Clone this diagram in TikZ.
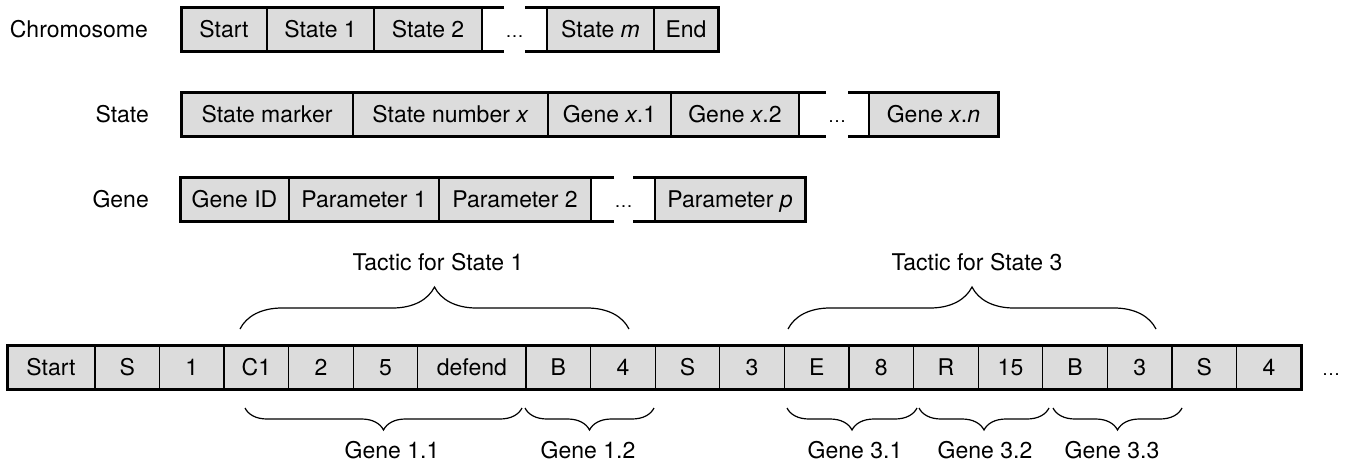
\documentclass[tikz,border=0pt]{standalone}
\usepackage{fontspec}
\setmainfont{TeX Gyre Heros}
\usetikzlibrary{decorations.pathreplacing}
\definecolor{cellgray}{RGB}{220,220,220}
\begin{document}
\begin{tikzpicture}[x=1pt,y=-1pt,
  font=\fontsize{23}{27}\selectfont,
  cell/.style={draw, fill=cellgray, line width=1.3pt, minimum height=44pt,
    inner sep=0pt, outer sep=0pt, anchor=west, text height=21pt, text depth=5pt},
  dots/.style={inner sep=0pt, text height=21pt, text depth=5pt, font=\fontsize{18}{20}\selectfont},
  lbl/.style={anchor=east, inner sep=0pt, text height=21pt, text depth=5pt},
  txt/.style={inner sep=0pt, text height=21pt, text depth=5pt},
  outer/.style={line width=3pt, line join=miter},
  brc/.style={decorate, decoration={brace, amplitude=#1}, line width=1.2pt},
  mbrc/.style={decorate, decoration={brace, mirror, amplitude=#1}, line width=1.2pt}
]
\useasboundingbox (0,0) rectangle (1347,466);

% ---------- Row 1: Chromosome ----------
\node[lbl] (l1) at (148,29) {Chromosome};
\node[cell, minimum width=86pt] (r1a) at (181,29) {Start};
\node[cell, minimum width=107pt] (r1b) at (r1a.east) {State 1};
\node[cell, minimum width=108pt] (r1c) at (r1b.east) {State 2};
\node[dots] (r1g) at (514.5,29) {\ldots};
\node[cell, minimum width=107pt] (r1d) at (547,29) {State \textit{m}};
\node[cell, minimum width=64pt] (r1e) at (r1d.east) {End};
\coordinate (r1p) at (504,7);  \coordinate (r1q) at (504,51);
\coordinate (r1s) at (525,7);  \coordinate (r1t) at (525,51);
\draw[outer] (r1p) -- (r1a.north west) -- (r1a.south west) -- (r1q);
\draw[outer] (r1s) -- (r1e.north east) -- (r1e.south east) -- (r1t);

% ---------- Row 2: State ----------
\node[lbl] (l2) at (149,114) {State};
\node[cell, minimum width=172pt] (r2a) at (181,114) {State marker};
\node[cell, minimum width=195pt] (r2b) at (r2a.east) {State number \textit{x}};
\node[cell, minimum width=123pt] (r2c) at (r2b.east) {Gene \textit{x}.1};
\node[cell, minimum width=128pt] (r2d) at (r2c.east) {Gene \textit{x}.2};
\node[dots] (r2g) at (837,114) {\ldots};
\node[cell, minimum width=129pt] (r2e) at (869,114) {Gene \textit{x}.\textit{n}};
\coordinate (r2p) at (826,92);  \coordinate (r2q) at (826,136);
\coordinate (r2s) at (848,92);  \coordinate (r2t) at (848,136);
\draw[outer] (r2p) -- (r2a.north west) -- (r2a.south west) -- (r2q);
\draw[outer] (r2s) -- (r2e.north east) -- (r2e.south east) -- (r2t);

% ---------- Row 3: Gene ----------
\node[lbl] (l3) at (149,199) {Gene};
\node[cell, minimum width=109pt] (r3a) at (180,199) {Gene ID};
\node[cell, minimum width=150pt] (r3b) at (r3a.east) {Parameter 1};
\node[cell, minimum width=152pt] (r3c) at (r3b.east) {Parameter 2};
\node[dots] (r3g) at (623.5,199) {\ldots};
\node[cell, minimum width=150pt] (r3d) at (655,199) {Parameter \textit{p}};
\coordinate (r3p) at (614,177);  \coordinate (r3q) at (614,221);
\coordinate (r3s) at (633,177);  \coordinate (r3t) at (633,221);
\draw[outer] (r3p) -- (r3a.north west) -- (r3a.south west) -- (r3q);
\draw[outer] (r3s) -- (r3d.north east) -- (r3d.south east) -- (r3t);

% ---------- Example chromosome ----------
\node[cell, minimum width=88pt] (b1) at (7,367) {Start};
\node[cell, minimum width=64.55pt] (b2) at (b1.east) {S};
\node[cell, minimum width=64.55pt] (b3) at (b2.east) {1};
\node[cell, minimum width=64.55pt] (b4) at (b3.east) {C1};
\node[cell, minimum width=64.55pt] (b5) at (b4.east) {2};
\node[cell, minimum width=64.55pt] (b6) at (b5.east) {5};
\node[cell, minimum width=108.25pt] (b7) at (b6.east) {defend};
\node[cell, minimum width=64.6pt] (b8) at (b7.east) {B};
\node[cell, minimum width=64.6pt] (b9) at (b8.east) {4};
\node[cell, minimum width=64.6pt] (b10) at (b9.east) {S};
\node[cell, minimum width=64.6pt] (b11) at (b10.east) {3};
\node[cell, minimum width=64.6pt] (b12) at (b11.east) {E};
\node[cell, minimum width=64.6pt] (b13) at (b12.east) {8};
\node[cell, minimum width=64.6pt] (b14) at (b13.east) {R};
\node[cell, minimum width=64.6pt] (b15) at (b14.east) {15};
\node[cell, minimum width=64.6pt] (b16) at (b15.east) {B};
\node[cell, minimum width=64.6pt] (b17) at (b16.east) {3};
\node[cell, minimum width=64.6pt] (b18) at (b17.east) {S};
\node[cell, minimum width=64.6pt] (b19) at (b18.east) {4};
\draw[outer] (b1.north west) rectangle (b19.south east);
\node[dots] (bend) at (1331,367) {\ldots};

% ---------- Tactic braces ----------
\coordinate (t1a) at (240,329); \coordinate (t1b) at (629,329);
\draw[brc=42pt] (t1a) -- (t1b);
\node[txt] (t1) at (438,262) {Tactic for State 1};
\coordinate (t3a) at (788,329); \coordinate (t3b) at (1156,329);
\draw[brc=42pt] (t3a) -- (t3b);
\node[txt] (t3) at (977,262) {Tactic for State 3};

% ---------- Gene braces ----------
\coordinate (g11a) at (245,408); \coordinate (g11b) at (522,408);
\draw[mbrc=22pt] (g11a) -- (g11b);
\node[txt] (g11) at (392,450) {Gene 1.1};
\coordinate (g12a) at (525,408); \coordinate (g12b) at (654,408);
\draw[mbrc=22pt] (g12a) -- (g12b);
\node[txt] (g12) at (588,450) {Gene 1.2};
\coordinate (g31a) at (787,408); \coordinate (g31b) at (917,408);
\draw[mbrc=22pt] (g31a) -- (g31b);
\node[txt] (g31) at (855,450) {Gene 3.1};
\coordinate (g32a) at (919,408); \coordinate (g32b) at (1049,408);
\draw[mbrc=22pt] (g32a) -- (g32b);
\node[txt] (g32) at (985,450) {Gene 3.2};
\coordinate (g33a) at (1053,408); \coordinate (g33b) at (1182,408);
\draw[mbrc=22pt] (g33a) -- (g33b);
\node[txt] (g33) at (1112,450) {Gene 3.3};
\end{tikzpicture}
\end{document}
